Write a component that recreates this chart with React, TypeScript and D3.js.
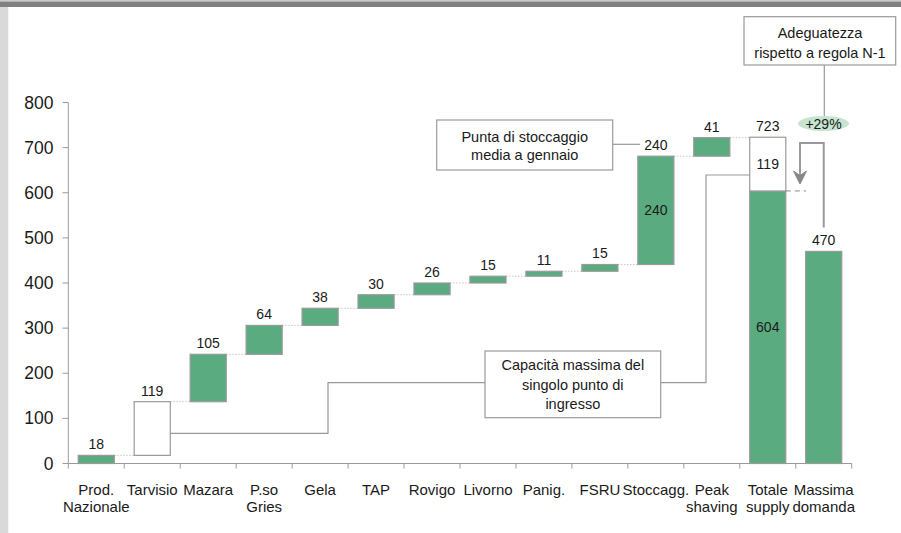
import React from "react";
import * as d3 from "d3";

const categories = [
  "Prod.\nNazionale", "Tarvisio", "Mazara", "P.so\nGries", "Gela", "TAP", "Rovigo",
  "Livorno", "Panig.", "FSRU", "Stoccagg.", "Peak\nshaving", "Totale\nsupply", "Massima\ndomanda",
];
const increments = [18, 119, 105, 64, 38, 30, 26, 15, 11, 15, 240, 41];
const hollowIndex = [1];
const totalSupply = 723;
const supplyN1 = 604;
const maxSingleEntry = 119;
const maxDemand = 470;
const adequacy = "+29%";
const yTicks = [0, 100, 200, 300, 400, 500, 600, 700, 800];

const W = 901, H = 533;
const GREEN = "#5aab7f";
const STROKE = "#9a9a9a";
const FONT = "'Liberation Sans', Arial, sans-serif";

export default function App() {
  const x = d3.scaleBand<string>().domain(categories).range([68.3, 851.7]).paddingInner(0.355).paddingOuter(0.1775);
  const y = d3.scaleLinear().domain([0, 800]).range([463.5, 102.5]);
  const bw = x.bandwidth();
  const step = x.step();
  const gap = (step - bw) / 2;

  let run = 0;
  const steps = increments.map((v, i) => {
    const b = run;
    run += v;
    return { cat: categories[i], v, base: b, top: run, hollow: hollowIndex.includes(i) };
  });
  const totCat = categories[12];
  const demCat = categories[13];

  const cx = (c: string) => (x(c) as number) + bw / 2;

  const connectors: { x1: number; x2: number; yv: number }[] = [];
  steps.forEach((s, i) => {
    const nextX = i + 1 < steps.length ? (x(steps[i + 1].cat) as number) : (x(totCat) as number);
    connectors.push({ x1: (x(s.cat) as number) + bw, x2: nextX, yv: s.top });
  });

  const tickXs = categories.map((c) => (x(c) as number) - gap).concat([(x(demCat) as number) + bw + gap]);

  const labelText = (t: string, px: number, py: number, size = 14, anchor: any = "middle") => (
    <text x={px} y={py} fontSize={size} textAnchor={anchor} fill="#1a1a1a">{t}</text>
  );

  const tarvRight = (x(categories[1]) as number) + bw;
  const totLeft = x(totCat) as number;
  const totRight = totLeft + bw;
  const demX = cx(demCat);

  return (
    <svg width={W} height={H} style={{ position: "absolute", left: 0, top: 0 }} fontFamily={FONT}>
      <rect x={0} y={0} width={W} height={H} fill="#fff" />
      <rect x={0} y={0} width={W} height={1.5} fill="#c9c9c9" />
      <rect x={0} y={1.5} width={W} height={5.5} fill="#808080" />
      <rect x={0} y={7} width={8.3} height={H - 7} fill="#d9d9d9" />

      {/* axes */}
      <line x1={68.3} x2={68.3} y1={y(800)} y2={y(0)} stroke={STROKE} />
      {yTicks.map((t) => (
        <g key={t}>
          <line x1={62.5} x2={68.3} y1={y(t)} y2={y(t)} stroke={STROKE} />
          <text x={53.5} y={y(t) + 6} fontSize={17.5} textAnchor="end" fill="#1a1a1a">{t}</text>
        </g>
      ))}
      <line x1={68.3} x2={851.7} y1={y(0)} y2={y(0)} stroke={STROKE} />
      {tickXs.map((tx, i) => (
        <line key={i} x1={tx} x2={tx} y1={y(0)} y2={y(0) + 5} stroke={STROKE} />
      ))}
      {categories.map((c) => (
        <text key={c} x={cx(c)} y={494.5} fontSize={15} textAnchor="middle" fill="#1a1a1a">
          {c.split("\n").map((l, i) => (
            <tspan key={i} x={cx(c)} dy={i === 0 ? 0 : 17}>{l}</tspan>
          ))}
        </text>
      ))}

      {/* connectors */}
      {connectors.map((c, i) => (
        <line key={i} x1={c.x1} x2={c.x2} y1={y(c.yv)} y2={y(c.yv)} stroke="#c8c8c8" strokeDasharray="1.5,1.5" />
      ))}

      {/* step bars */}
      {steps.map((s) => (
        <g key={s.cat}>
          <rect x={x(s.cat)} y={y(s.top)} width={bw} height={y(s.base) - y(s.top)}
            fill={s.hollow ? "#fff" : GREEN} stroke={STROKE} strokeWidth={1.2} />
          {labelText(String(s.v), cx(s.cat), y(s.top) - 6)}
        </g>
      ))}
      {labelText(String(increments[10]), cx(categories[10]), (y(steps[10].base) + y(steps[10].top)) / 2 + 5)}

      {/* totals */}
      <rect x={totLeft} y={y(supplyN1)} width={bw} height={y(0) - y(supplyN1)} fill={GREEN} stroke={STROKE} strokeWidth={1.2} />
      <rect x={totLeft} y={y(totalSupply)} width={bw} height={y(supplyN1) - y(totalSupply)} fill="#fff" stroke={STROKE} strokeWidth={1.2} />
      {labelText(String(totalSupply), cx(totCat), y(totalSupply) - 6)}
      {labelText(String(maxSingleEntry), cx(totCat), (y(totalSupply) + y(supplyN1)) / 2 + 5)}
      {labelText(String(supplyN1), cx(totCat), (y(supplyN1) + y(0)) / 2 + 5)}
      <rect x={x(demCat)} y={y(maxDemand)} width={bw} height={y(0) - y(maxDemand)} fill={GREEN} stroke={STROKE} strokeWidth={1.2} />
      {labelText(String(maxDemand), demX, y(maxDemand) - 6)}

      {/* dashed N-1 line */}
      <line x1={totRight} x2={806} y1={y(supplyN1)} y2={y(supplyN1)} stroke="#888" strokeDasharray="5,4" />

      {/* arrow from demand */}
      <polyline points={`${demX},${y(maxDemand) - 24} ${demX},143 800,143 800,178`} fill="none" stroke="#999" strokeWidth={2} />
      <path d="M793.5,171 L800,184 L806.5,171 L800,175.5 Z" fill="#888" stroke="#888" strokeWidth={1} />

      {/* adequacy callout */}
      <line x1={824.3} x2={824.3} y1={65} y2={116.5} stroke="#999" strokeWidth={1.2} />
      <rect x={744} y={16.7} width={151.7} height={48.3} fill="#fff" stroke={STROKE} strokeWidth={1.2} />
      <text x={820} y={38} fontSize={14.5} textAnchor="middle" fill="#1a1a1a">
        <tspan x={820}>Adeguatezza</tspan>
        <tspan x={820} dy={20}>rispetto a regola N-1</tspan>
      </text>
      <ellipse cx={823.5} cy={123.5} rx={25.5} ry={7.5} fill="#c6e4cf" />
      <text x={823.5} y={128.5} fontSize={14} textAnchor="middle" fill="#1a1a1a">{adequacy}</text>

      {/* storage callout */}
      <line x1={612.7} x2={640} y1={144.3} y2={144.3} stroke="#999" strokeWidth={1.2} />
      <rect x={436.7} y={120} width={176} height={50} fill="#fff" stroke={STROKE} strokeWidth={1.2} />
      <text x={524.7} y={141.5} fontSize={14.5} textAnchor="middle" fill="#1a1a1a">
        <tspan x={524.7}>Punta di stoccaggio</tspan>
        <tspan x={524.7} dy={18.5}>media a gennaio</tspan>
      </text>

      {/* single entry callout */}
      <polyline points={`${tarvRight},433.3 328,433.3 328,382.7 485,382.7`} fill="none" stroke="#999" strokeWidth={1.2} />
      <polyline points={`660.7,382.7 706,382.7 706,175 ${totLeft},175`} fill="none" stroke="#999" strokeWidth={1.2} />
      <rect x={485} y={351} width={175.7} height={66.7} fill="#fff" stroke={STROKE} strokeWidth={1.2} />
      <text x={572.8} y={370} fontSize={14.5} textAnchor="middle" fill="#1a1a1a">
        <tspan x={572.8}>Capacità massima del</tspan>
        <tspan x={572.8} dy={19.5}>singolo punto di</tspan>
        <tspan x={572.8} dy={19.5}>ingresso</tspan>
      </text>
    </svg>
  );
}
